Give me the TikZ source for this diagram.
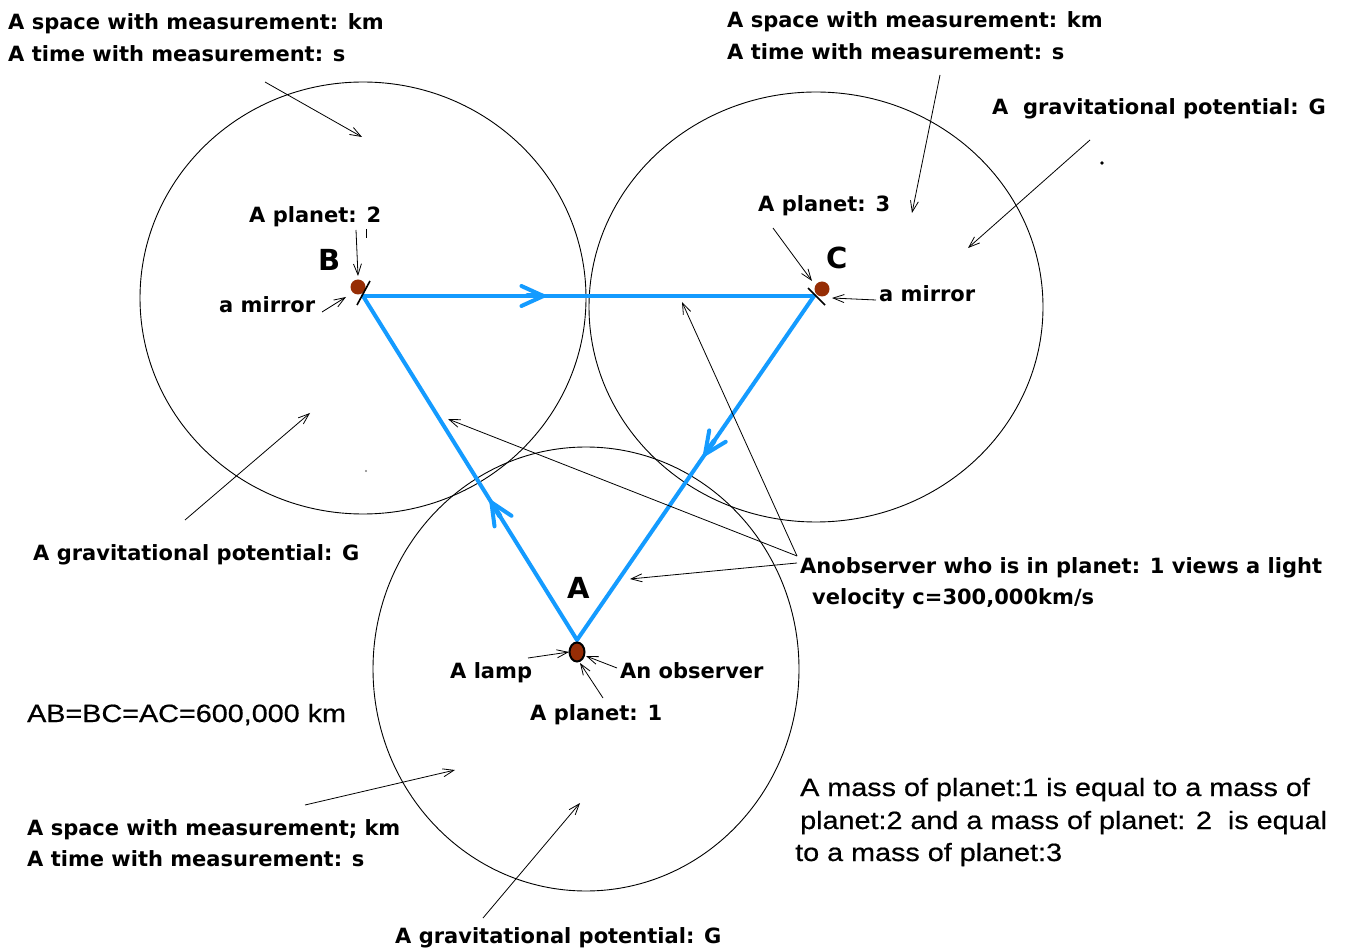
\documentclass[tikz,border=0pt]{standalone}
\usepackage{fontspec}
\setmainfont{DejaVu Sans}
\newfontfamily\regfont[FakeStretch=1.15,FakeBold=0.6]{Liberation Sans}
\usetikzlibrary{arrows.meta,decorations.markings,shapes.geometric}
\definecolor{beam}{RGB}{20,155,255}
\definecolor{planetbrown}{RGB}{150,45,5}
\tikzset{
  lbl/.style={font=\fontsize{21}{25}\selectfont\bfseries, anchor=base west, inner sep=0pt},
  reg/.style={font=\regfont\fontsize{25}{30}\selectfont, anchor=base west, inner sep=0pt},
  big/.style={font=\fontsize{29}{34}\selectfont\bfseries, anchor=base west, inner sep=0pt},
  ptr/.style={draw=black, line width=0.8pt, -{Straight Barb[length=11pt,width=8pt]}},
  field/.style={draw=black, line width=0.9pt},
  ray/.style={draw=beam, line width=4pt, line cap=round,
    postaction={decorate}},
  raymark/.style={decoration={markings, mark=at position #1 with
    {\draw[beam, line width=4pt, line cap=round] (-22pt,-10pt) -- (0pt,0pt) -- (-22pt,10pt);
     \draw[beam, line width=5pt] (-16pt,0pt) -- (-2pt,0pt);}}},
  planet/.style={circle, fill=planetbrown, minimum size=15pt, inner sep=0pt},
  mirrorline/.style={draw=black, line width=1.6pt}
}
\begin{document}
\begin{tikzpicture}[x=1pt,y=-1pt]
\useasboundingbox (0,0) rectangle (1350,949);
\fill[white] (0,0) rectangle (1350,949);

% gravitational fields
\draw[field] (363,298) ellipse [x radius=223pt, y radius=216pt];
\draw[field] (816,307) ellipse [x radius=227pt, y radius=215pt];
\draw[field] (586,669) ellipse [x radius=213pt, y radius=222pt];

% vertices
\coordinate (B) at (363,296);
\coordinate (C) at (814,296);
\coordinate (A) at (577,640);

% light rays
\draw[ray, raymark=0.40] (B) -- (C);
\draw[ray, raymark=0.46] (C) -- (A);
\draw[ray, raymark=0.40] (A) -- (B);

% planets
\node[planet] (pB) at (358,287) {};
\node[planet] (pC) at (822,289) {};
\node[ellipse, fill=planetbrown, draw=black, line width=2pt, minimum width=15pt, minimum height=19pt, inner sep=0pt] (pA) at (577,652) {};
\draw[mirrorline] (370,281) -- (357,305);
\draw[mirrorline] (808,288) -- (825,305);

% vertex letters
\node[big] (lB) at (318,271) {B};
\node[big] (lC) at (826,269) {C};
\node[big] (lA) at (567,598) {A};

% labels
\node[lbl] (tl1) at (8,30) {A space with measurement: km};
\node[lbl] (tl2) at (8,62) {A time with measurement: s};
\node[lbl] (tm1) at (727,28) {A space with measurement: km};
\node[lbl] (tm2) at (727,60) {A time with measurement: s};
\node[lbl] (tr) at (992,115) {A \ gravitational potential: G};
\node[lbl] (p2) at (249,223) {A planet: 2};
\node[lbl] (m2) at (219,313) {a mirror};
\node[lbl] (p3) at (758,212) {A planet: 3};
\node[lbl] (m3) at (879,302) {a mirror};
\node[lbl] (gl) at (33,560) {A gravitational potential: G};
\node[lbl] (ob1) at (800,573) {Anobserver who is in planet: 1 views a light};
\node[lbl] (ob2) at (812,604) {velocity c=300,000km/s};
\node[lbl] (lamp) at (450,678) {A lamp};
\node[lbl] (obs) at (620,678) {An observer};
\node[lbl] (p1) at (530,720) {A planet: 1};
\node[reg] (eq) at (27,722) {AB=BC=AC=600,000 km};
\node[reg] (ms1) at (800,796) {A mass of planet:1 is equal to a mass of};
\node[reg] (ms2) at (800,829) {planet:2 and a mass of planet: 2 \ is equal};
\node[reg] (ms3) at (795,861) {to a mass of planet:3};
\node[lbl] (bl1) at (27,835) {A space with measurement; km};
\node[lbl] (bl2) at (27,866) {A time with measurement: s};
\node[lbl] (gb) at (395,943) {A gravitational potential: G};

% pointer ends
\coordinate (a1t) at (265,82);   \coordinate (a1h) at (362,137);
\coordinate (a2t) at (940,75);   \coordinate (a2h) at (912,213);
\coordinate (a3t) at (1090,140); \coordinate (a3h) at (968,248);
\coordinate (a4t) at (356,230);  \coordinate (a4h) at (358,276);
\coordinate (a5t) at (322,312);  \coordinate (a5h) at (346,297);
\coordinate (a6t) at (773,228);  \coordinate (a6h) at (812,281);
\coordinate (a7t) at (876,300);  \coordinate (a7h) at (832,298);
\coordinate (a8t) at (185,520);  \coordinate (a8h) at (310,413);
\coordinate (o1) at (797,556);   \coordinate (o2) at (797,563);
\coordinate (a9h) at (448,419);  \coordinate (a10h) at (682,302);
\coordinate (a11h) at (630,579);
\coordinate (a12t) at (528,658); \coordinate (a12h) at (569,652);
\coordinate (a13t) at (617,668); \coordinate (a13h) at (586,656);
\coordinate (a14t) at (603,698); \coordinate (a14h) at (580,663);
\coordinate (a15t) at (305,805); \coordinate (a15h) at (455,770);
\coordinate (a16t) at (483,918); \coordinate (a16h) at (580,803);

\draw[ptr] (a1t) -- (a1h);
\draw[ptr] (a2t) -- (a2h);
\draw[ptr] (a3t) -- (a3h);
\draw[ptr] (a4t) -- (a4h);
\draw[ptr] (a5t) -- (a5h);
\draw[ptr] (a6t) -- (a6h);
\draw[ptr] (a7t) -- (a7h);
\draw[ptr] (a8t) -- (a8h);
\draw[ptr] (o1) -- (a9h);
\draw[ptr] (o1) -- (a10h);
\draw[ptr] (o2) -- (a11h);
\draw[ptr] (a12t) -- (a12h);
\draw[ptr] (a13t) -- (a13h);
\draw[ptr] (a14t) -- (a14h);
\draw[ptr] (a15t) -- (a15h);
\draw[ptr] (a16t) -- (a16h);

% small tick and specks
\coordinate (tk1) at (366,229); \coordinate (tk2) at (366,238);
\draw[line width=1pt] (tk1) -- (tk2);
\fill (1102,163) circle (1.8pt);
\fill[gray] (366,471) circle (1.2pt);
\end{tikzpicture}
\end{document}
